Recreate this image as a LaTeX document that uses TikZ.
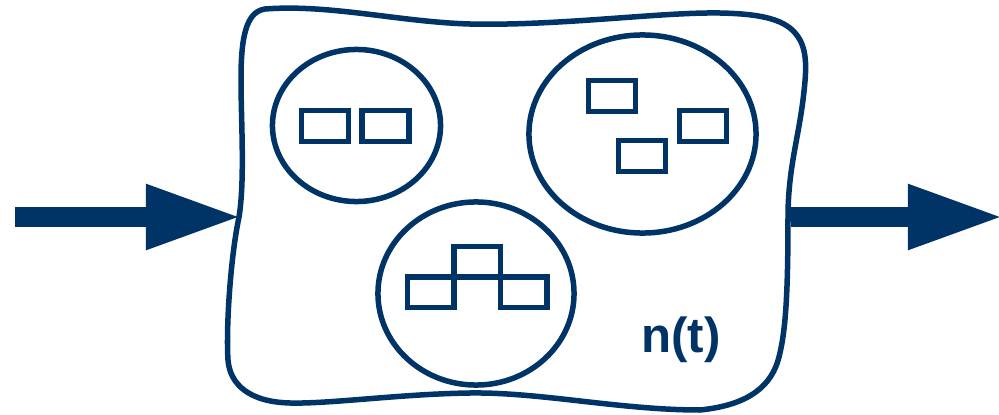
\documentclass[tikz,border=0pt]{standalone}
\usepackage{fontspec}
\setmainfont{Liberation Sans}
\usetikzlibrary{arrows.meta,positioning,shapes.geometric}
\definecolor{navy}{RGB}{0,51,102}

\begin{document}
\begin{tikzpicture}[
  x=0.01cm, y=-0.01cm,
  line width=0.055cm, draw=navy,
  group/.style={draw, ellipse, inner sep=0pt},
  cell/.style={draw, rectangle, minimum width=0.465cm, minimum height=0.305cm, inner sep=0pt, outer sep=0pt},
  flow/.style={-{Triangle[length=0.96cm, width=0.6cm]}, line width=0.2cm, draw=navy, fill=navy}
]
\useasboundingbox (0,0) rectangle (999,415);

% the system boundary
\draw (265,9) .. controls (330,4) and (400,22) .. (470,24)
  .. controls (560,26) and (660,12) .. (720,13)
  .. controls (770,14) and (790,22) .. (800,40)
  .. controls (808,55) and (806,75) .. (803,100)
  .. controls (798,140) and (788,170) .. (788,217) coordinate (outE)
  .. controls (788,290) and (786,330) .. (779,357)
  .. controls (772,385) and (750,405) .. (700,410)
  .. controls (620,410) and (540,392) .. (470,393)
  .. controls (400,394) and (330,404) .. (290,403)
  .. controls (250,402) and (230,385) .. (228,360)
  .. controls (226,330) and (230,260) .. (239,217) coordinate (inW)
  .. controls (245,180) and (241,120) .. (241,80)
  .. controls (241,40) and (245,12) .. (265,9) -- cycle;

% groups
\node[group, minimum width=1.68cm, minimum height=1.52cm] (pair) at (356.5,125.5) {};
\node[group, minimum width=2.27cm, minimum height=1.98cm] (loose) at (642.5,134) {};
\node[group, minimum width=1.96cm, minimum height=1.83cm] (stack) at (476,293.5) {};

\node[cell] (p1) at (325,126) {};
\node[cell] (p2) at (385.5,126) {};

\node[cell] (l1) at (612,96) {};
\node[cell] (l2) at (703,126) {};
\node[cell] (l3) at (642,156) {};

\node[cell] (s1) at (430.8,292.3) {};
\node[cell, anchor=south west] (s2) at (s1.north east) {};
\node[cell, anchor=north west] (s3) at (s2.south east) {};

\node[font=\bfseries\fontsize{14}{16}\selectfont, text=navy, anchor=base, inner sep=0pt] (nt) at (681,352) {n(t)};

% input and output
\coordinate (src) at (15,217);
\coordinate (sink) at (1004,217);
\draw[flow] (src) -- ([xshift=0.03cm]inW);
\draw[flow] ([xshift=0.03cm]outE) -- (sink);
\end{tikzpicture}
\end{document}
